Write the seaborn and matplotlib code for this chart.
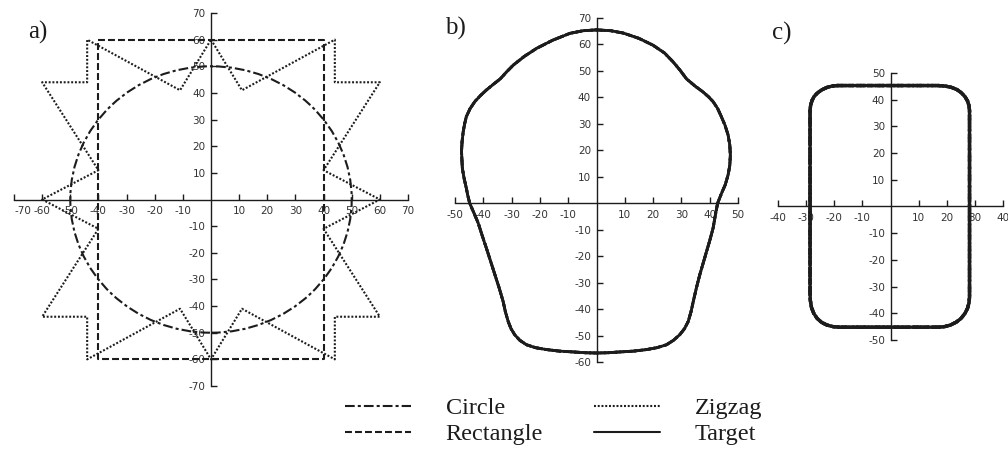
import matplotlib
matplotlib.use("Agg")
import matplotlib.pyplot as plt
from matplotlib.patches import Circle
import seaborn as sns

# ---- panel a: initial contours ----
circle_radius = 50
rect_x = [-40, 40, 40, -40, -40]
rect_y = [60, 60, -60, -60, 60]
zigzag_x = [0, 11, 44, 44, 60, 40, 60, 40, 60, 44, 44, 11, 0,
            -11, -44, -44, -60, -40, -60, -40, -60, -44, -44, -11, 0]
zigzag_y = [60, 41, 60, 44, 44, 11, 0, -11, -44, -44, -60, -41, -60,
            -41, -60, -44, -44, -11, 0, 11, 44, 44, 60, 41, 60]

# ---- panel b: converged contour ----
b_x = [0, 5, 9.5, 15, 20, 24, 27, 29.5, 31.8, 34.8, 37.7, 39.6, 41.2, 42.8,
       44, 45.4, 46.5, 47.1, 47.3, 47.1, 46.5, 45.5, 44.2, 42.8, 42, 41.2,
       40.1, 38.9, 37.7, 36.5, 35.3, 34.2, 33.4, 32.4, 31.1, 29.4, 27.2,
       24.7, 21.3, 17.7, 13, 8.2, 4, 0,
       -4, -8.2, -13, -17.7, -21.5, -24.7, -27.1, -28.9, -30.2, -31.2, -32.2,
       -33, -34.4, -35.9, -37.4, -38.9, -40.4, -41.8, -43.3, -44.8, -45.5,
       -46, -46.8, -47.4, -47.7, -47.5, -47.1, -46.6, -46, -44.7, -43, -41,
       -38.9, -36.5, -34, -31.8, -29.4, -25.5, -21.2, -15.5, -9.4, -4.7, 0]
b_y = [65.5, 65.2, 64.3, 62.3, 59.7, 56.8, 53.5, 50.3, 47, 44.3, 42, 40.2,
       38.4, 35.8, 33, 29.5, 25.8, 22, 18.2, 14.3, 10.7, 7, 3.8, 0, -4.5,
       -9.4, -13.8, -18.2, -22.6, -27, -32, -37.1, -41, -44.7, -47.4, -49.7,
       -51.8, -53.5, -54.6, -55.3, -55.9, -56.2, -56.5, -56.6,
       -56.5, -56.2, -55.9, -55.3, -54.6, -53.5, -51.8, -49.7, -47.4, -44.7,
       -41, -37.1, -32, -27, -22, -17, -12.2, -7.5, -3.7, 0, 3, 5.7, 9.5,
       13.2, 19.5, 23.3, 27, 30, 32.7, 35.7, 38.4, 40.7, 42.8, 44.9, 47,
       49.6, 52.2, 55.5, 58.5, 61.6, 64.2, 65.2, 65.5]

# ---- panel c: converged contour ----
c_x = [-19, 17, 19.5, 21.7, 23.6, 25.2, 26.5, 27.4, 27.9, 28.1, 28.1, 27.9,
       27.4, 26.5, 25.1, 23.4, 21.3, 19.2, 17, -18, -20.4, -22.6, -24.5,
       -26.1, -27.3, -28.1, -28.5, -28.6, -28.6, -28.4, -27.9, -27.1, -25.9,
       -24.4, -22.6, -20.8, -19]
c_y = [45.3, 45.3, 45.1, 44.6, 43.8, 42.6, 41.1, 39.5, 37.8, 36, -34, -36.1,
       -38.1, -40, -41.9, -43.3, -44.4, -45, -45.2, -45.2, -45, -44.4, -43.4,
       -41.9, -40, -37.8, -35.2, -32.5, 36, 37.9, 39.7, 41.3, 42.6, 43.7,
       44.6, 45.1, 45.3]

series_labels = ["Circle", "Rectangle", "Zigzag", "Target"]
panel_labels = ["a)", "b)", "c)"]
a_ticks = [-70, -60, -50, -40, -30, -20, -10, 10, 20, 30, 40, 50, 60, 70]
b_xticks = [-50, -40, -30, -20, -10, 10, 20, 30, 40, 50]
b_yticks = [-60, -50, -40, -30, -20, -10, 10, 20, 30, 40, 50, 60, 70]
c_xticks = [-40, -30, -20, -10, 10, 20, 30, 40]
c_yticks = [-50, -40, -30, -20, -10, 10, 20, 30, 40, 50]

sns.set_theme(style="white")
plt.rcParams["lines.scale_dashes"] = False
plt.rcParams["font.family"] = ["DejaVu Sans"]

INK = "#1c1c1c"
styles = {
    "Circle": dict(linestyle=(0, (7.0, 2.2, 2.2, 2.2)), linewidth=1.5),
    "Rectangle": dict(linestyle=(0, (5.0, 2.2)), linewidth=1.5),
    "Zigzag": dict(linestyle=(0, (1.4, 1.3)), linewidth=1.5),
    "Target": dict(linestyle="-", linewidth=1.5),
}

W, H = 1008, 450
fig = plt.figure(figsize=(W / 100, H / 100), dpi=100)


def px_axes(left, right, top, bottom):
    return fig.add_axes([left / W, 1 - bottom / H, (right - left) / W, (bottom - top) / H])


def style_axes(ax, xlim, ylim, xticks, yticks):
    ax.set_facecolor("none")
    ax.set_xlim(*xlim)
    ax.set_ylim(*ylim)
    for side in ("top", "right"):
        ax.spines[side].set_visible(False)
    for side in ("left", "bottom"):
        ax.spines[side].set_position("zero")
        ax.spines[side].set_color(INK)
        ax.spines[side].set_linewidth(1.0)
    ax.set_xticks(xticks)
    ax.set_yticks(yticks)
    ax.set_xticklabels([str(t) for t in xticks])
    ax.set_yticklabels([str(t) for t in yticks])
    ax.tick_params(axis="x", direction="in", length=4, width=1.0, color=INK,
                   pad=5, labelsize=7.5, labelcolor="#333333", bottom=True)
    ax.tick_params(axis="y", direction="in", length=4, width=1.0, color=INK,
                   pad=4, labelsize=7.5, labelcolor="#333333", left=True)
    ax.set_xlabel("")
    ax.set_ylabel("")
    ax.grid(False)


def outline(ax, xs, ys, name, width_scale=1.0):
    kw = dict(styles[name])
    kw["linewidth"] = kw["linewidth"] * width_scale
    sns.lineplot(x=xs, y=ys, sort=False, estimator=None, ax=ax, color=INK,
                 clip_on=False, **kw)
    return ax.lines[-1]


# panel a: the three starting contours
ax_a = px_axes(14, 408, 13, 386)
style_axes(ax_a, (-70, 70), (-70, 70), a_ticks, a_ticks)
ax_a.get_xticklabels()[0].set_horizontalalignment("left")
ax_a.add_patch(Circle((0, 0), circle_radius, fill=False, edgecolor=INK,
                      **styles["Circle"]))
outline(ax_a, rect_x, rect_y, "Rectangle")
outline(ax_a, zigzag_x, zigzag_y, "Zigzag")

# panel b: every start converges onto the target
ax_b = px_axes(455, 738, 18, 362)
style_axes(ax_b, (-50, 50), (-60, 70), b_xticks, b_yticks)
handles = [outline(ax_b, b_x, b_y, name, 1.35) for name in series_labels]

# panel c
ax_c = px_axes(778, 1003, 73, 340)
style_axes(ax_c, (-40, 40), (-50, 50), c_xticks, c_yticks)
for name in series_labels:
    outline(ax_c, c_x, c_y, name, 1.6)

# panel letters
serif = ["Liberation Serif", "DejaVu Serif"]
for label, (x, y) in zip(panel_labels, [(28, 32), (445, 28), (772, 33)]):
    fig.text(x / W, 1 - y / H, label, family=serif, fontsize=18,
             ha="left", va="center", color=INK)

leg = fig.legend(handles, series_labels, ncol=2, loc="upper left",
                 bbox_to_anchor=(345 / W, 1 - 397 / H), frameon=False,
                 prop=dict(family=serif, size=17.5), handlelength=2.72,
                 handletextpad=1.42, columnspacing=2.1, labelspacing=0.18,
                 borderpad=0, borderaxespad=0)
for t in leg.get_texts():
    t.set_color(INK)
for line, name in zip(leg.get_lines(), series_labels):
    line.set_linewidth(styles[name]["linewidth"])

fig.savefig("out.png", dpi=100)
